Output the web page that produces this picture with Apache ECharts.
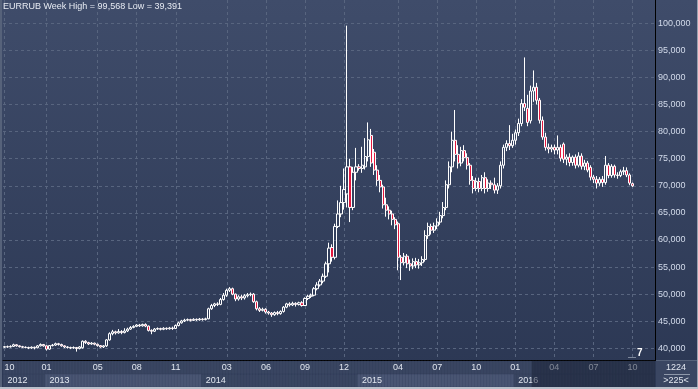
<!DOCTYPE html>
<html><head><meta charset="utf-8">
<script src="https://cdn.jsdelivr.net/npm/echarts@6/dist/echarts.min.js"></script>
<style>html,body{margin:0;padding:0;background:#2d3956;overflow:hidden}#c{width:698px;height:389px}</style>
</head><body><div id="c"></div>
<script>
// ---------- data ----------
const symbol = 'EURRUB';
const period = 'Week';
const firstWeek = '2012-10-01';
const weekCount = 217;               // weekly slots on the axis (incl. empty future slots)
const monthTicks = ['2012-10','2013-01','2013-05','2013-08','2013-11','2014-03','2014-06','2014-09','2014-12','2015-04','2015-07','2015-10','2016-01','2016-04','2016-07','2016-10'];
const yearTicks = ['2012','2013','2014','2015','2016'];
const priceTicks = [40,45,50,55,60,65,70,75,80,85,90,95,100];
const focusFrom = '2016-02-15';
const barCountdown = '7';
const cornerTop = '1224';
const cornerBottom = '>225<';

const opens = [
40.20,40.30,40.25,40.35,40.65,40.45,40.30,40.20,40.15,40.05,
40.20,40.10,40.45,40.70,40.45,39.85,40.50,40.60,40.85,40.70,
40.45,40.25,40.15,40.05,40.15,39.95,40.10,41.30,41.05,40.80,
40.95,40.75,40.50,40.25,40.45,41.55,42.70,43.05,42.85,43.10,
42.90,43.20,43.55,43.85,44.05,44.30,44.15,44.40,44.10,43.30,
43.15,43.55,43.65,43.50,43.70,43.60,43.75,43.65,44.20,44.70,
45.05,45.20,45.30,45.15,45.35,45.25,45.40,45.30,45.45,47.30,
47.90,48.20,48.10,49.00,49.80,50.70,51.00,50.00,49.10,49.50,
49.30,49.70,49.90,50.00,48.60,47.30,47.00,47.20,46.70,46.50,
46.20,46.60,46.40,46.80,47.60,48.20,48.00,48.30,48.10,48.40,
47.90,49.20,49.60,49.80,51.00,51.70,52.40,53.30,55.60,58.60,
56.80,62.50,64.80,66.90,68.50,73.50,66.00,72.50,73.50,73.20,
73.50,75.40,79.30,76.20,72.90,71.00,69.80,66.50,65.50,64.80,
63.80,63.00,56.80,55.80,57.00,55.60,55.20,56.00,55.40,55.80,
56.40,60.80,62.50,61.80,62.60,63.30,64.50,66.00,70.20,73.50,
78.40,75.80,74.20,76.50,75.20,73.80,71.00,69.50,70.80,69.50,
71.50,69.50,70.50,70.20,69.20,70.00,73.80,77.10,77.80,77.40,
78.40,79.80,81.50,85.20,84.30,82.00,87.50,88.20,85.80,82.10,
79.00,77.10,76.80,77.10,76.60,77.10,77.70,74.90,75.30,74.30,
75.30,73.80,75.50,73.60,74.20,73.40,71.60,71.20,70.50,71.20,
70.60,73.80,71.90,73.60,72.00,71.90,72.60,72.80,72.00,70.40];
const closes = [
40.30,40.25,40.35,40.65,40.45,40.30,40.20,40.15,40.05,40.20,
40.10,40.45,40.70,40.45,39.85,40.50,40.60,40.85,40.70,40.45,
40.25,40.15,40.05,40.15,39.95,40.25,41.30,41.05,40.80,40.95,
40.75,40.50,40.25,40.45,41.55,42.70,43.05,42.85,43.10,42.90,
43.20,43.55,43.85,44.05,44.30,44.15,44.40,44.10,43.30,43.15,
43.55,43.65,43.50,43.70,43.60,43.75,43.65,44.20,44.70,45.05,
45.20,45.30,45.15,45.35,45.25,45.40,45.30,45.45,47.30,47.90,
48.20,48.10,49.00,49.80,50.70,51.00,50.00,49.10,49.50,49.30,
49.70,49.90,50.00,48.60,47.30,47.00,47.20,46.70,46.50,46.20,
46.60,46.40,46.80,47.60,48.20,48.00,48.30,48.10,48.40,47.90,
49.20,49.60,49.80,51.00,51.70,52.40,53.30,55.60,58.50,56.80,
62.50,64.80,66.90,69.30,73.50,66.00,72.50,73.50,73.20,73.80,
75.40,78.50,74.20,72.90,71.00,69.80,66.50,65.50,64.80,63.80,
62.80,56.80,55.80,57.00,55.60,55.20,56.00,55.40,55.80,56.40,
60.80,62.50,61.80,62.60,63.30,64.50,66.00,70.20,73.50,78.40,
75.80,74.20,76.50,75.20,73.80,71.00,69.50,70.80,69.50,71.50,
69.50,70.50,70.20,69.20,70.00,73.80,77.10,77.80,77.40,78.40,
79.80,81.50,85.20,84.50,81.70,87.50,88.20,85.80,82.10,79.00,
77.10,76.80,77.10,76.60,77.10,75.10,74.90,75.30,74.30,75.30,
73.80,75.50,73.60,74.20,72.90,71.60,71.20,70.50,71.20,70.60,
73.80,71.90,73.60,72.00,71.90,72.60,72.80,72.00,70.50,69.987];
const lows = [
40.05,40.10,40.15,40.25,40.30,40.15,40.05,40.00,39.85,39.90,
39.80,40.00,40.35,40.30,39.60,39.70,40.35,40.45,40.50,40.30,
40.05,39.95,39.85,39.90,39.391,39.80,39.95,40.80,40.60,40.65,
40.55,40.30,40.10,40.05,40.25,41.40,42.40,42.55,42.70,42.60,
42.75,43.00,43.40,43.70,43.90,43.95,44.00,43.90,43.10,42.60,
43.00,43.40,43.30,43.35,43.40,43.45,43.40,43.55,44.05,44.55,
44.85,45.00,44.95,45.05,45.05,45.10,45.10,45.15,45.35,47.10,
47.60,47.80,47.95,48.80,49.50,50.40,49.80,48.70,48.80,48.90,
49.00,49.40,49.60,48.40,47.00,46.70,46.80,46.40,46.20,45.80,
46.00,46.10,46.20,46.60,47.40,47.70,47.80,47.70,47.90,47.70,
47.80,48.90,49.30,49.60,50.70,51.40,52.00,53.00,54.00,56.00,
56.40,62.20,64.20,65.60,66.00,63.30,65.50,71.00,72.80,72.40,
73.00,74.50,73.50,72.00,70.00,68.80,65.80,64.30,63.80,62.70,
62.00,54.40,52.60,55.30,54.80,54.30,54.60,54.80,54.70,55.20,
56.00,60.20,61.00,61.30,62.00,62.80,64.00,65.50,69.50,72.50,
74.50,73.20,73.60,74.50,73.00,70.20,68.60,69.00,68.80,69.00,
68.60,68.90,69.40,68.60,68.50,69.50,73.20,76.40,76.60,77.00,
77.60,79.20,81.00,83.80,81.00,81.50,85.50,85.00,81.50,78.50,
76.50,76.00,76.20,75.80,75.80,74.50,74.20,73.80,73.60,73.70,
73.20,73.40,73.00,72.90,72.50,71.00,70.50,69.50,70.00,69.80,
70.20,71.40,71.50,71.50,71.30,71.60,72.00,71.60,70.10,69.80];
const highs = [
40.45,40.50,40.55,40.85,40.75,40.55,40.45,40.35,40.30,40.35,
40.30,40.60,40.90,40.80,40.55,40.60,40.80,41.05,41.00,40.85,
40.55,40.40,40.30,40.35,40.25,40.40,41.45,41.50,41.20,41.15,
41.05,40.85,40.60,40.60,41.70,42.95,43.40,43.25,43.55,43.35,
43.70,43.80,44.10,44.25,44.45,44.50,44.55,44.60,44.20,43.50,
43.75,43.85,43.80,43.90,43.85,43.95,44.00,44.40,44.90,45.25,
45.45,45.50,45.45,45.55,45.50,45.60,45.55,45.65,47.50,48.20,
48.40,48.50,49.30,50.20,51.00,51.30,51.20,50.10,49.80,49.90,
50.00,50.20,50.30,50.20,48.80,47.60,47.50,47.40,46.90,46.70,
46.80,46.90,47.00,47.80,48.40,48.50,48.60,48.50,48.60,48.70,
49.40,49.90,50.10,51.30,52.20,52.80,53.80,56.00,59.50,59.20,
63.00,67.30,70.00,73.20,99.568,75.00,73.50,77.00,74.00,77.20,
78.80,81.70,80.50,76.80,73.80,72.00,70.20,67.80,66.20,65.40,
64.20,63.40,57.20,57.60,57.40,56.40,56.60,56.70,56.50,57.00,
61.80,63.20,63.00,63.20,64.00,65.20,67.00,71.00,74.50,80.00,
84.00,77.50,77.20,77.50,76.00,74.20,71.80,71.50,71.50,72.00,
72.50,71.20,71.00,71.50,70.50,74.50,77.60,78.40,81.20,79.60,
80.40,82.40,86.00,93.70,86.80,88.50,91.30,89.00,86.20,82.80,
79.80,77.80,77.60,77.60,79.30,77.60,78.00,75.80,76.00,75.60,
75.80,76.20,76.00,74.80,74.60,73.80,72.00,71.80,71.60,71.80,
75.50,74.20,74.00,73.90,72.50,73.00,73.50,73.40,72.30,70.60];

// ---------- derived ----------
const fmt = v => v.toFixed(3).replace('.', ',');
const cats = [];
{
  const p = firstWeek.split('-').map(Number);
  const t0 = Date.UTC(p[0], p[1] - 1, p[2]);
  for (let i = 0; i < weekCount; i++) cats.push(new Date(t0 + i * 7 * 86400000).toISOString().slice(0, 10));
}
const monthIdx = new Set(monthTicks.map(m => cats.findIndex(d => d.startsWith(m))).filter(i => i >= 0));
const yearIdx = new Set(yearTicks.map(y => cats.findIndex(d => d.startsWith(y))).filter(i => i >= 0));
const focusIdx = cats.findIndex(d => d >= focusFrom);
const candles = closes.map((c, i) => [opens[i], c, lows[i], highs[i]]);
const hi = Math.max(...highs), lo = Math.min(...lows);
const last = closes[closes.length - 1];

const C_LIGHT = '#4a5673', C_DARK = '#3a4662';
const yearBand = cats.map(d => ({ value: 1, itemStyle: { color: (+d.slice(0, 4)) % 2 ? C_LIGHT : C_DARK, borderColor: (+d.slice(0, 4)) % 2 ? C_LIGHT : C_DARK, borderWidth: 0.6 } }));
const monthBand = cats.map(() => 1);
const overlay = cats.map((d, i) => i >= focusIdx ? 2 : '-');

const FONT = 'Liberation Sans, Arial, sans-serif';
const gridLine = { color: '#58657f', type: [3, 3], width: 1 };

const chart = echarts.init(document.getElementById('c'), null, { renderer: 'canvas' });
chart.setOption({
  animation: false,
  backgroundColor: { type: 'linear', x: 0, y: 0, x2: 0, y2: 1, colorStops: [{ offset: 0, color: '#3f4c6a' }, { offset: 1, color: '#2b3753' }] },
  textStyle: { fontFamily: FONT },
  title: {
    text: symbol + ' ' + period + ' High = ' + fmt(hi) + ' Low = ' + fmt(lo),
    left: 3, top: 2, padding: 0,
    textStyle: { color: '#e6eaf2', fontSize: 9, fontWeight: 'normal', fontFamily: FONT }
  },
  grid: [
    { left: 3, right: 43, top: 0, bottom: 28.5 },
    { left: 3, right: 43, top: 361, height: 26 }
  ],
  xAxis: [
    {
      type: 'category', gridIndex: 0, data: cats, boundaryGap: true,
      axisLine: { show: true, lineStyle: { color: '#000', width: 1 } },
      axisTick: { show: false }, axisLabel: { show: false },
      splitLine: { show: true, alignWithLabel: true, interval: i => monthIdx.has(i), lineStyle: gridLine }
    },
    {
      type: 'category', gridIndex: 1, data: cats, boundaryGap: true, position: 'top', z: 3,
      axisLine: { show: false }, axisTick: { show: false }, splitLine: { show: false },
      axisLabel: { inside: true, margin: 2, interval: i => monthIdx.has(i), formatter: v => v.slice(5, 7), color: '#e2e7f0', fontSize: 9, alignMinLabel: 'left' }
    },
    {
      type: 'category', gridIndex: 1, data: cats, boundaryGap: true, position: 'bottom', z: 3,
      axisLine: { show: false }, axisTick: { show: false }, splitLine: { show: false },
      axisLabel: { inside: true, margin: 2, interval: i => yearIdx.has(i), formatter: v => v.slice(0, 4), align: 'left', padding: [0, 0, 0, 3], color: '#e2e7f0', fontSize: 9 }
    }
  ],
  yAxis: [
    {
      type: 'value', gridIndex: 0, position: 'right', min: 37.748, max: 104.302, scale: true,
      axisLine: { show: true, lineStyle: { color: '#000', width: 1 } },
      axisTick: { show: false, customValues: priceTicks },
      axisLabel: { customValues: priceTicks, margin: 3, formatter: v => fmt(v), color: '#d3dbeb', fontSize: 9 },
      splitLine: { show: true, lineStyle: gridLine }
    },
    { type: 'value', gridIndex: 1, min: 0, max: 2, show: false }
  ],
  series: [
    {
      type: 'candlestick', xAxisIndex: 0, yAxisIndex: 0, data: candles, barWidth: 2.6,
      itemStyle: { color: 'transparent', color0: '#e3173e', borderColor: '#ffffff', borderColor0: '#ffffff', borderWidth: 1 },
      markLine: {
        silent: true, symbol: ['none', 'none'], animation: false,
        lineStyle: { opacity: 0 },
        label: { show: true, position: 'end', distance: 2, formatter: () => fmt(last), backgroundColor: '#8f99a9', color: '#222b40', fontSize: 9, padding: [2, 4, 1, 5], fontFamily: FONT },
        data: [{ yAxis: last }]
      }
    },
    { type: 'bar', xAxisIndex: 1, yAxisIndex: 1, stack: 'panel', data: yearBand, barWidth: '100%', barGap: '-100%', z: 1, silent: true },
    { type: 'bar', xAxisIndex: 1, yAxisIndex: 1, stack: 'panel', data: monthBand, barWidth: '100%', barGap: '-100%', z: 1, silent: true, itemStyle: { color: C_DARK, borderColor: C_DARK, borderWidth: 0.6 } },
    { type: 'bar', xAxisIndex: 1, yAxisIndex: 1, data: overlay, barWidth: '100%', barGap: '-100%', z: 4, silent: true, itemStyle: { color: 'rgba(24,32,52,0.5)' } }
  ],
  graphic: [
    { type: 'rect', z: 20, silent: true, shape: { x: 656, y: 361, width: 41, height: 26 }, style: { fill: C_DARK } },
    { type: 'line', z: 20, silent: true, shape: { x1: 656, y1: 360.5, x2: 698, y2: 360.5 }, style: { stroke: '#56627a', lineWidth: 1 } },
    { type: 'text', z: 21, silent: true, x: 676, y: 368, style: { text: cornerTop, fill: '#e2e7f0', font: '9px ' + FONT, align: 'center', verticalAlign: 'middle' } },
    { type: 'line', z: 21, silent: true, shape: { x1: 664, y1: 374.5, x2: 690, y2: 374.5 }, style: { stroke: '#8e98aa', lineWidth: 1 } },
    { type: 'text', z: 21, silent: true, x: 676, y: 381, style: { text: cornerBottom, fill: '#e2e7f0', font: '9px ' + FONT, align: 'center', verticalAlign: 'middle' } },
    { type: 'line', z: 21, silent: true, shape: { x1: 628, y1: 357.5, x2: 636, y2: 357.5 }, style: { stroke: '#7d879a', lineWidth: 1 } },
    { type: 'text', z: 21, silent: true, x: 637, y: 353, style: { text: barCountdown, fill: '#ffffff', font: 'bold 10px ' + FONT, align: 'left', verticalAlign: 'middle' } },
    { type: 'rect', z: 22, silent: true, shape: { x: 0, y: 0, width: 2, height: 389 }, style: { fill: '#56627a' } },
    { type: 'rect', z: 22, silent: true, shape: { x: 697, y: 0, width: 1, height: 389 }, style: { fill: '#9aa3b1' } },
    { type: 'rect', z: 22, silent: true, shape: { x: 0, y: 387, width: 698, height: 2 }, style: { fill: '#b9c0cb' } }
  ]
});
</script>
</body></html>
